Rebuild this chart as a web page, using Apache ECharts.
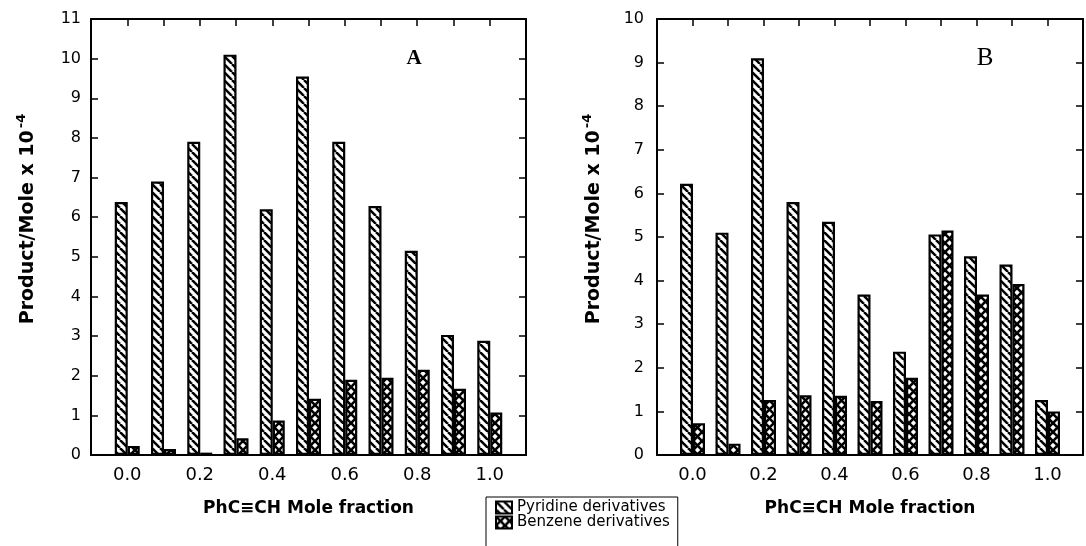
<!DOCTYPE html>
<html>
<head>
<meta charset="utf-8">
<script src="https://cdn.jsdelivr.net/npm/echarts@6/dist/echarts.min.js"></script>
<style>
  html, body { margin: 0; padding: 0; background: #fff; }
  #chart { width: 1086px; height: 546px; }
</style>
</head>
<body>
<div id="chart"></div>
<script>
// ---- data ----
const fractions = [0.0, 0.1, 0.2, 0.3, 0.4, 0.5, 0.6, 0.7, 0.8, 0.9, 1.0];
const pyridineA = [6.38, 6.9, 7.9, 10.1, 6.2, 9.55, 7.9, 6.28, 5.15, 3.03, 2.88];
const benzeneA  = [0.23, 0.15, 0.06, 0.42, 0.87, 1.42, 1.9, 1.95, 2.15, 1.67, 1.07];
const pyridineB = [6.22, 5.1, 9.1, 5.8, 5.35, 3.68, 2.37, 5.06, 4.56, 4.37, 1.26];
const benzeneB  = [0.73, 0.26, 1.26, 1.37, 1.36, 1.24, 1.77, 5.15, 3.68, 3.92, 1.0];
const xTickLabels = ['0.0', '0.2', '0.4', '0.6', '0.8', '1.0'];
const yMaxA = 11;
const yMaxB = 10;
const seriesNames = ['Pyridine derivatives', 'Benzene derivatives'];
const xTitle = 'PhC\u2261CH Mole fraction';
const yTitle = 'Product/Mole x 10{sup|-4}';
const panelLetters = ['A', 'B'];

// ---- hatch patterns ----
function stripePattern() {
  const p = 8;
  const c = document.createElement('canvas');
  c.width = p; c.height = p;
  const g = c.getContext('2d');
  g.fillStyle = '#fff'; g.fillRect(0, 0, p, p);
  g.strokeStyle = '#000'; g.lineWidth = 2.5;
  for (let k = -1; k <= 1; k++) {
    g.beginPath(); g.moveTo(k * p, 0); g.lineTo(k * p + p, p); g.stroke();
  }
  return c;
}
function crossPattern() {
  const p = 9;
  const c = document.createElement('canvas');
  c.width = p; c.height = p;
  const g = c.getContext('2d');
  g.fillStyle = '#fff'; g.fillRect(0, 0, p, p);
  g.strokeStyle = '#000'; g.lineWidth = 2.6;
  for (let k = -1; k <= 1; k++) {
    g.beginPath(); g.moveTo(k * p, 0); g.lineTo(k * p + p, p); g.stroke();
    g.beginPath(); g.moveTo(k * p + p, 0); g.lineTo(k * p, p); g.stroke();
  }
  return c;
}
const stripeFill = { image: stripePattern(), repeat: 'repeat' };
const crossFill = { image: crossPattern(), repeat: 'repeat' };

const black = '#000';
const axisLine = { show: true, onZero: false, lineStyle: { color: black, width: 2 } };

function bottomX(gridIndex) {
  return {
    type: 'value', gridIndex, position: 'bottom', min: -0.1, max: 1.1, interval: 0.1,
    axisLine, axisTick: { show: false }, splitLine: { show: false },
    axisLabel: {
      color: black, fontSize: 18, fontFamily: 'DejaVu Sans', margin: 11,
      showMinLabel: true, showMaxLabel: true,
      formatter: v => { const s = (Math.round(v * 10) / 10).toFixed(1); return xTickLabels.includes(s) ? s : ''; }
    },
    name: xTitle, nameLocation: 'middle', nameGap: 45,
    nameTextStyle: { color: black, fontSize: 17, fontWeight: 'bold', fontFamily: 'DejaVu Sans' }
  };
}
function topX(gridIndex) {
  return {
    type: 'value', gridIndex, position: 'top', min: -0.1, max: 1.1, interval: 0.1,
    axisLine, axisTick: { show: true, inside: true, length: 7, lineStyle: { color: black, width: 1.5 } },
    axisLabel: { show: false }, splitLine: { show: false }
  };
}
function leftY(gridIndex, max, margin) {
  return {
    type: 'value', gridIndex, position: 'left', min: 0, max, interval: 1,
    axisLine, axisTick: { show: true, inside: true, length: 7, lineStyle: { color: black, width: 1.5 } },
    splitLine: { show: false },
    axisLabel: { color: black, fontSize: 16, fontFamily: 'DejaVu Sans', margin },
    name: yTitle, nameLocation: 'middle', nameGap: 50,
    nameTextStyle: {
      color: black, fontSize: 19, fontWeight: 'bold', fontFamily: 'DejaVu Sans',
      padding: [0, 0, 0, 36],
      rich: { sup: { fontSize: 13, fontWeight: 'bold', fontFamily: 'DejaVu Sans', color: black, padding: [0, 0, 13, 2] } }
    }
  };
}
function rightY(gridIndex, max) {
  return {
    type: 'value', gridIndex, position: 'right', min: 0, max, interval: 1,
    axisLine, axisTick: { show: true, inside: true, length: 7, lineStyle: { color: black, width: 1.5 } },
    axisLabel: { show: false }, splitLine: { show: false }
  };
}
function barSeries(name, values, xIdx, yIdx, fill, width) {
  return {
    type: 'bar', name, xAxisIndex: xIdx, yAxisIndex: yIdx,
    data: fractions.map((f, i) => [f, values[i]]),
    barWidth: width, barGap: '0%',
    itemStyle: { color: fill, borderColor: black, borderWidth: 2.2 },
    emphasis: { disabled: true }
  };
}

const option = {
  backgroundColor: '#fff',
  animation: false,
  grid: [
    { left: 91, top: 19, width: 435, height: 436 },
    { left: 657, top: 19, width: 434, height: 436 }
  ],
  xAxis: [bottomX(0), topX(0), bottomX(1), topX(1)],
  yAxis: [leftY(0, yMaxA, 10), rightY(0, yMaxA), leftY(1, yMaxB, 13), rightY(1, yMaxB)],
  legend: {
    data: seriesNames, orient: 'vertical', left: 486, top: 497, height: 40,
    itemWidth: 16, itemHeight: 12, itemGap: 0,
    padding: [3, 8, 20, 9],
    backgroundColor: '#fff', borderColor: black, borderWidth: 1,
    textStyle: { color: black, fontSize: 15, lineHeight: 15, fontFamily: 'DejaVu Sans' },
    icon: 'rect', selectedMode: false
  },
  series: [
    barSeries(seriesNames[0], pyridineA, 0, 0, stripeFill, 13),
    barSeries(seriesNames[1], benzeneA, 0, 0, crossFill, 12),
    barSeries(seriesNames[0], pyridineB, 2, 2, stripeFill, 13),
    barSeries(seriesNames[1], benzeneB, 2, 2, crossFill, 12)
  ],
  graphic: [
    { type: 'text', x: 414, y: 59, style: { text: panelLetters[0], font: 'bold 21px "Liberation Serif"', fill: black, textAlign: 'center', textVerticalAlign: 'middle' } },
    { type: 'text', x: 985, y: 58, style: { text: panelLetters[1], font: '25px "Liberation Serif"', fill: black, textAlign: 'center', textVerticalAlign: 'middle' } }
  ]
};

const chart = echarts.init(document.getElementById('chart'), null, { renderer: 'canvas' });
chart.setOption(option);
</script>
</body>
</html>
